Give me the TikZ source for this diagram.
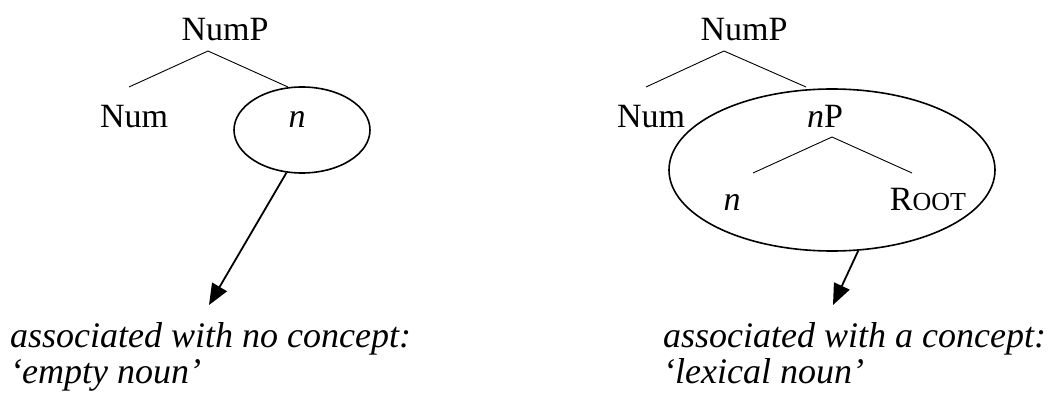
\documentclass[tikz,border=0pt]{standalone}
\usepackage{fontspec}
\setmainfont{Liberation Serif}
\usetikzlibrary{shapes.geometric,arrows.meta}
\begin{document}
\begin{tikzpicture}[x=1pt,y=-1pt,
  lab/.style={anchor=base,inner sep=0pt,font=\fontsize{34}{40}\selectfont},
  capline/.style={anchor=base west,inner sep=0pt,font=\fontsize{36}{43}\selectfont\itshape},
  branch/.style={line width=0.9pt},
  bubble/.style={draw,ellipse,line width=1.6pt,inner sep=0pt},
  pointer/.style={line width=1.8pt,-{Triangle[length=21pt,width=17pt]}}]
\useasboundingbox (0,0) rectangle (1054,398);
% ---------- left tree ----------
\node[lab] (numpA) at (225,41) {NumP};
\node[lab] (numA) at (134,128) {Num};
\node[bubble,minimum width=136pt,minimum height=86pt] (ellA) at (302,130) {};
\node[lab] (nA) at (297,128) {\itshape n};
\coordinate (apexA) at (208,51);
\coordinate (lA) at (129,87);
\coordinate (rA) at (288,87);
\draw[branch] (lA) -- (apexA) -- (rA);
\coordinate (tipA) at (209,305);
\draw[pointer] (ellA.250) -- (tipA);
\node[capline] (c1A) at (10,347) {associated with no concept:};
\node[capline] (c2A) at (10,383) {‘empty noun’};
% ---------- right tree ----------
\node[bubble,minimum width=326pt,minimum height=162pt] (ellB) at (832,170) {};
\node[lab] (numpB) at (744,41) {NumP};
\node[lab] (numB) at (651,128) {Num};
\node[lab] (npB) at (825,128) {{\itshape n}P};
\coordinate (apexB) at (724,51);
\coordinate (lB) at (646,87);
\coordinate (rB) at (806,87);
\draw[branch] (lB) -- (apexB) -- (rB);
\coordinate (apexC) at (832,137);
\coordinate (lC) at (753,173);
\coordinate (rC) at (912,173);
\draw[branch] (lC) -- (apexC) -- (rC);
\node[lab] (nB) at (732,211) {\itshape n};
\node[lab] (rootB) at (928,211) {R{\fontsize{26}{30}\selectfont OOT}};
\coordinate (tipB) at (833,305);
\draw[pointer] (ellB.288) -- (tipB);
\node[capline] (c1B) at (663,347) {associated with a concept:};
\node[capline] (c2B) at (663,383) {‘lexical noun’};
\end{tikzpicture}
\end{document}
